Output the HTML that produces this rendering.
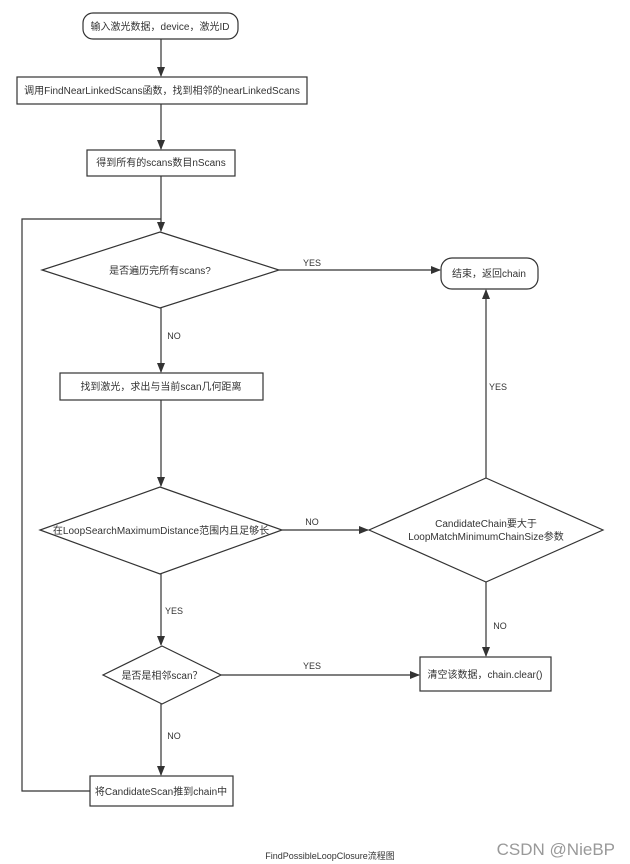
<!DOCTYPE html>
<html><head><meta charset="utf-8"><style>
html,body{margin:0;padding:0;background:#fff;}
svg{display:block;font-family:"Liberation Sans","Noto Sans CJK SC",sans-serif;}
text{font-size:10px;fill:#333;}
</style></head><body>
<svg width="630" height="864" viewBox="0 0 630 864" xmlns="http://www.w3.org/2000/svg">
<defs><marker id="a" markerWidth="10" markerHeight="8" refX="9" refY="4" orient="auto" markerUnits="userSpaceOnUse"><path d="M0,0 L10,4 L0,8 Z" fill="#333"/></marker></defs>
<g fill="none" stroke="#333" stroke-width="1.2">
<rect x="83" y="13" width="155" height="26" rx="10" fill="#fff"/>
<rect x="17" y="77" width="290" height="27" fill="#fff"/>
<rect x="87" y="150" width="148" height="26"/>
<polygon points="160,232 279,270 160,308 42,270"/>
<rect x="441" y="258" width="97" height="31" rx="11"/>
<rect x="60" y="373" width="203" height="27"/>
<polygon points="160,487 282,530 160,574 40,530"/>
<polygon points="486,478 603,530 486,582 369,530"/>
<polygon points="162,646 221,675 162,704 103,675"/>
<rect x="420" y="657" width="131" height="34"/>
<rect x="90" y="776" width="143" height="30"/>
<line x1="161" y1="39" x2="161" y2="76" marker-end="url(#a)"/>
<line x1="161" y1="104" x2="161" y2="149" marker-end="url(#a)"/>
<line x1="161" y1="176" x2="161" y2="231" marker-end="url(#a)"/>
<line x1="279" y1="270" x2="440" y2="270" marker-end="url(#a)"/>
<line x1="161" y1="308" x2="161" y2="372" marker-end="url(#a)"/>
<line x1="161" y1="400" x2="161" y2="486" marker-end="url(#a)"/>
<line x1="282" y1="530" x2="368" y2="530" marker-end="url(#a)"/>
<line x1="486" y1="478" x2="486" y2="290" marker-end="url(#a)"/>
<line x1="486" y1="582" x2="486" y2="656" marker-end="url(#a)"/>
<line x1="161" y1="574" x2="161" y2="645" marker-end="url(#a)"/>
<line x1="221" y1="675" x2="419" y2="675" marker-end="url(#a)"/>
<line x1="161" y1="704" x2="161" y2="775" marker-end="url(#a)"/>
<polyline points="90,791 22,791 22,219 161,219"/>
</g>
<g text-anchor="middle">
<text x="160" y="30">输入激光数据，device，激光ID</text>
<text x="162" y="94">调用FindNearLinkedScans函数，找到相邻的nearLinkedScans</text>
<text x="161" y="166">得到所有的scans数目nScans</text>
<text x="160" y="274">是否遍历完所有scans?</text>
<text x="489" y="277">结束，返回chain</text>
<text x="161" y="390">找到激光，求出与当前scan几何距离</text>
<text x="161" y="534">在LoopSearchMaximumDistance范围内且足够长</text>
<text x="486" y="527">CandidateChain要大于</text>
<text x="486" y="540">LoopMatchMinimumChainSize参数</text>
<text x="162" y="679">是否是相邻scan？</text>
<text x="485" y="678">清空该数据，chain.clear()</text>
<text x="161" y="795">将CandidateScan推到chain中</text>
<text x="312" y="266" style="font-size:9px">YES</text>
<text x="174" y="339" style="font-size:9px">NO</text>
<text x="312" y="525" style="font-size:9px">NO</text>
<text x="498" y="390" style="font-size:9px">YES</text>
<text x="174" y="614" style="font-size:9px">YES</text>
<text x="500" y="629" style="font-size:9px">NO</text>
<text x="312" y="669" style="font-size:9px">YES</text>
<text x="174" y="739" style="font-size:9px">NO</text>
<text x="330" y="859" style="font-size:9px">FindPossibleLoopClosure流程图</text>
</g>
<text x="615" y="855" text-anchor="end" style="font-size:17px;fill:#999">CSDN @NieBP</text>
</svg>
</body></html>
